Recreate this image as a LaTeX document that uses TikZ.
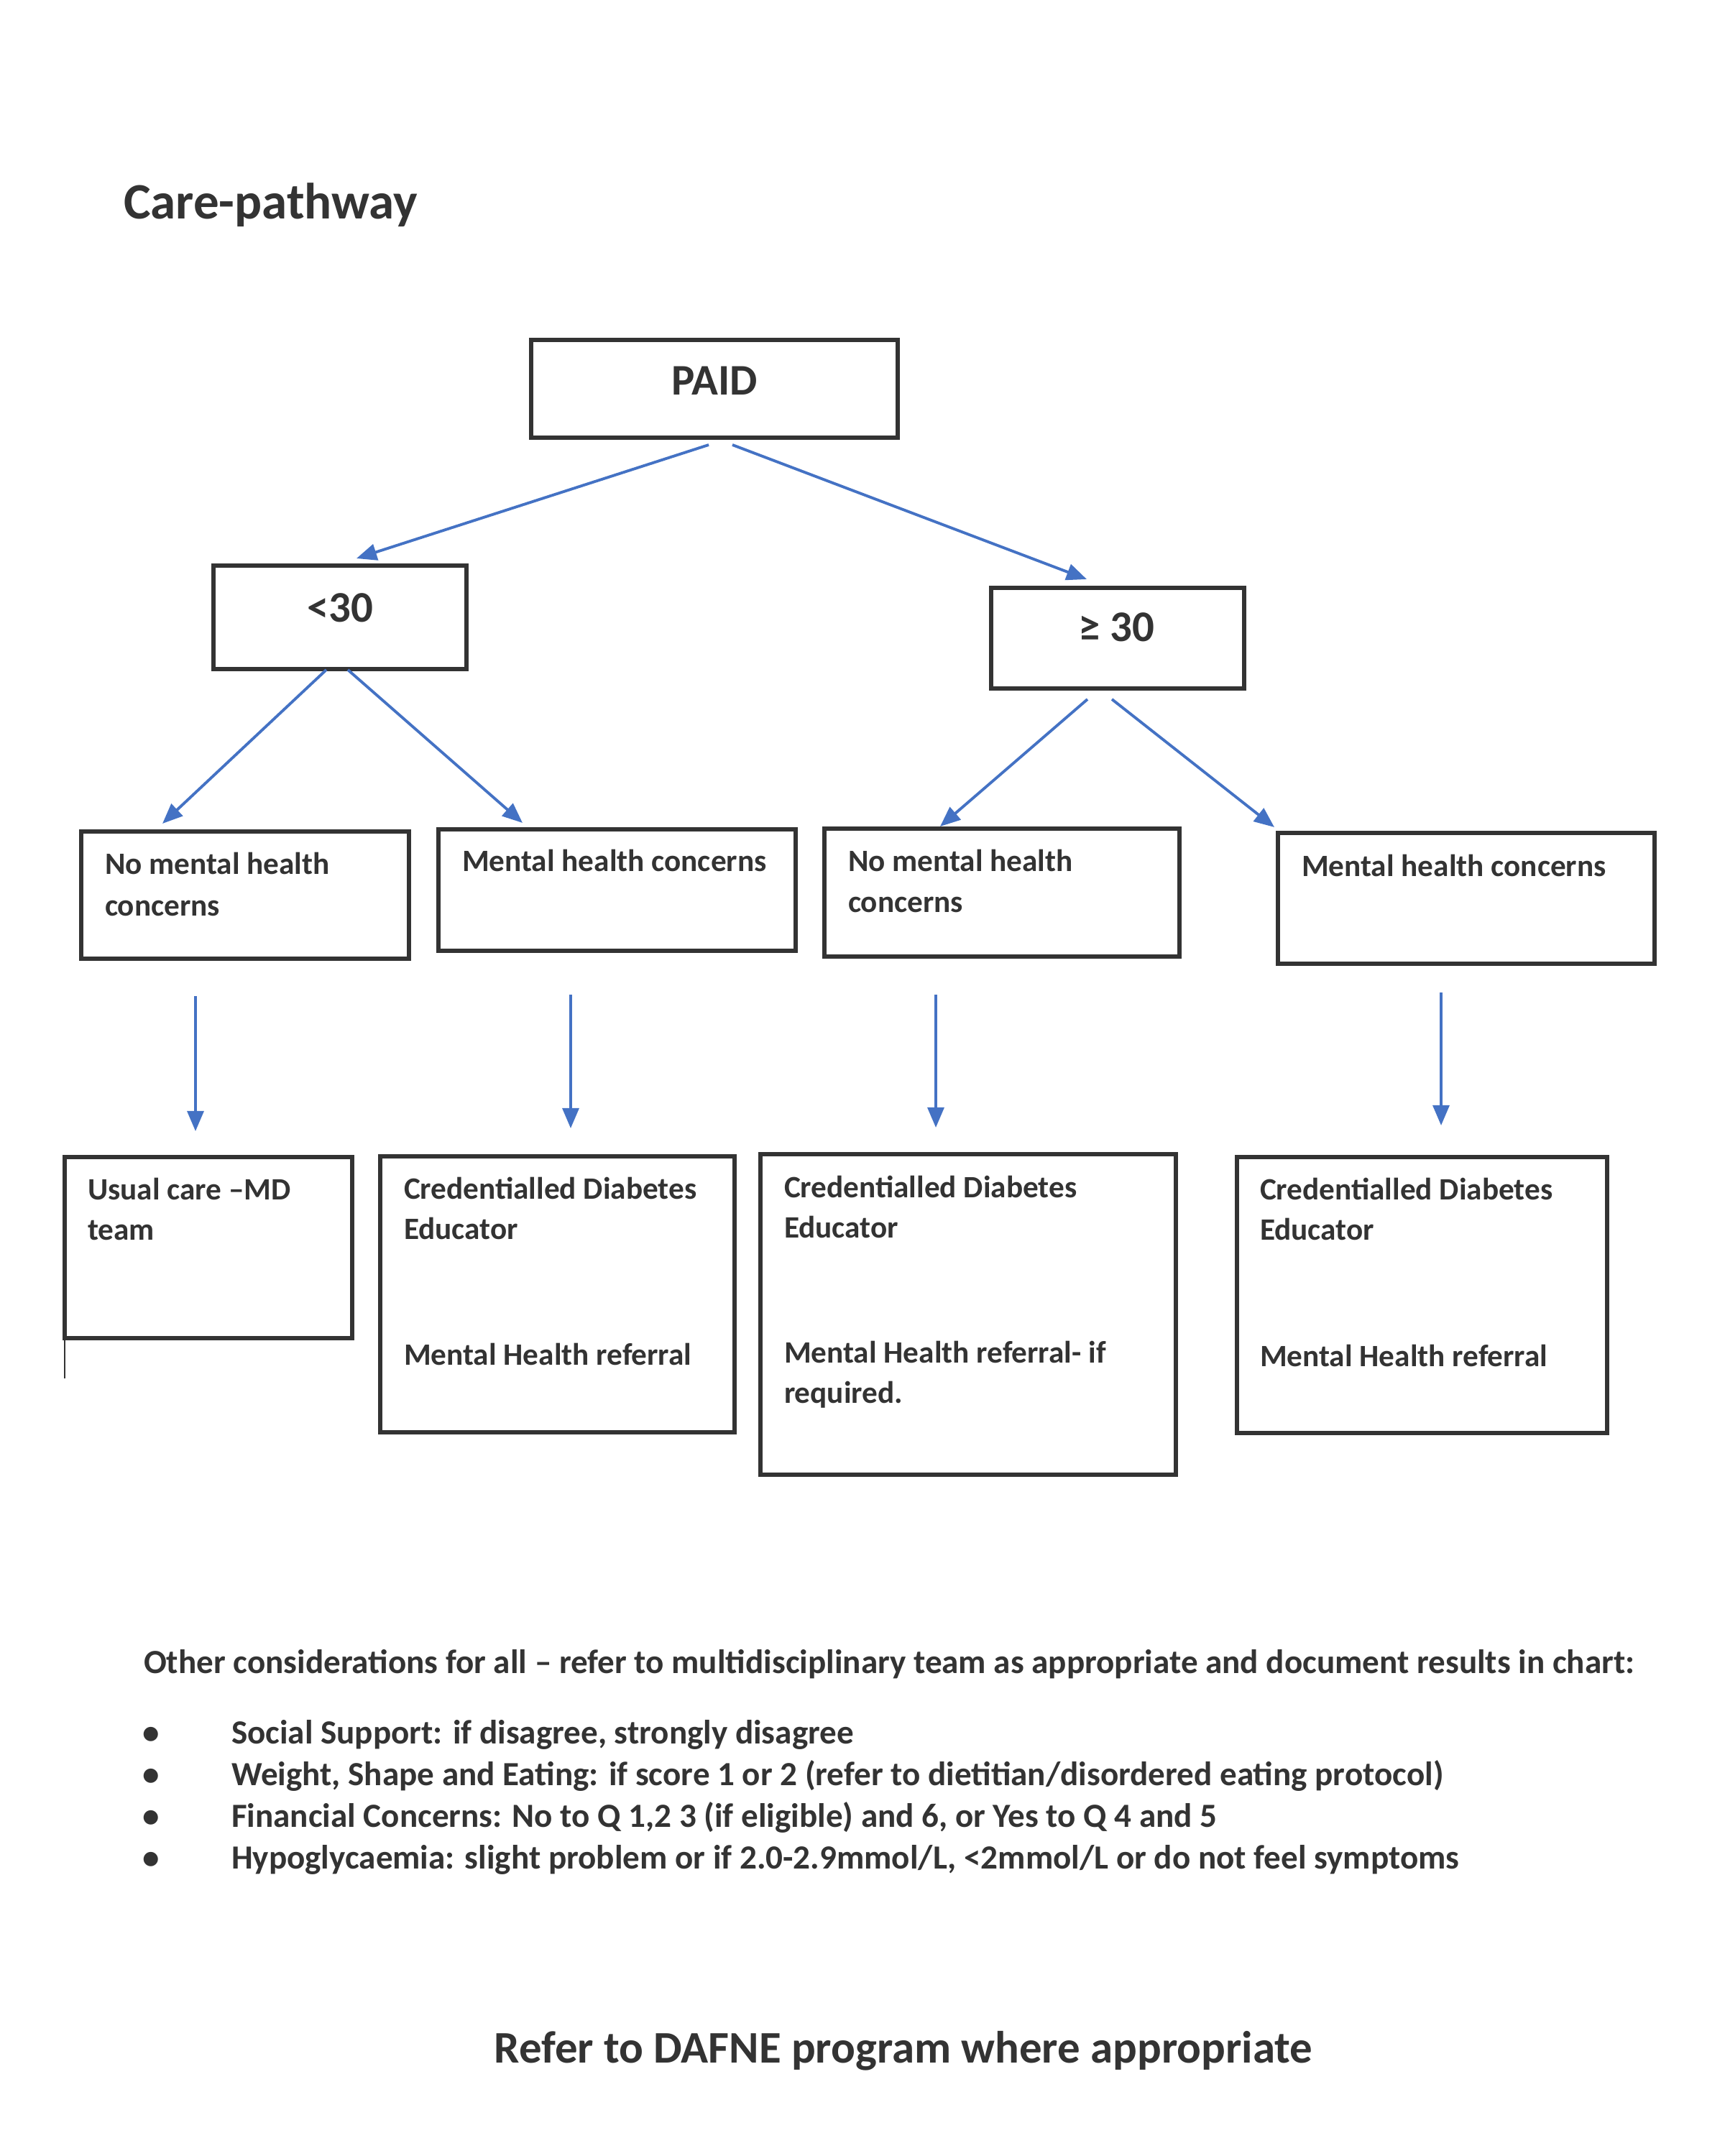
\documentclass[tikz,border=0pt]{standalone}
\usepackage{fontspec}
\setmainfont{Carlito}
\usetikzlibrary{arrows.meta,calc}
\definecolor{boxcol}{HTML}{333333}
\definecolor{txtcol}{HTML}{333333}
\definecolor{arrcol}{RGB}{68,114,196}
\begin{document}
\begin{tikzpicture}[
  box/.style={draw=boxcol, line width=1.5pt, inner sep=0pt, outer sep=0pt, anchor=north west},
  txt/.style={anchor=base west, inner sep=0pt, outer sep=0pt, text=txtcol, font=\bfseries\fontsize{12.3}{14}\selectfont},
  note/.style={txt, font=\bfseries\fontsize{13.4}{16}\selectfont},
  big/.style={anchor=base, inner sep=0pt, outer sep=0pt, text=txtcol, font=\bfseries\fontsize{17.3}{20}\selectfont},
  arr/.style={draw=arrcol, line width=1.1pt, -{Triangle[length=8pt,width=6.5pt]}},
  thin/.style={draw=boxcol, line width=0.7pt}
]
\useasboundingbox[fill=white] (0,0) rectangle (24,-30);

% title
\node[txt, font=\bfseries\fontsize{20.2}{24}\selectfont] (title) at (1.72,-3.05) {Care-pathway};

% boxes
\node[box, minimum width=5.10cm, minimum height=1.36cm] (paid) at (7.39,-4.73) {};
\node[box, minimum width=3.52cm, minimum height=1.44cm] (lt) at (2.97,-7.87) {};
\node[box, minimum width=3.52cm, minimum height=1.40cm] (ge) at (13.79,-8.18) {};
\node[box, minimum width=4.56cm, minimum height=1.77cm] (a1) at (1.13,-11.57) {};
\node[box, minimum width=4.97cm, minimum height=1.69cm] (a2) at (6.10,-11.54) {};
\node[box, minimum width=4.94cm, minimum height=1.78cm] (a3) at (11.47,-11.53) {};
\node[box, minimum width=5.24cm, minimum height=1.82cm] (a4) at (17.78,-11.59) {};
\node[box, minimum width=4.00cm, minimum height=2.52cm] (b1) at (0.90,-16.10) {};
\node[box, minimum width=4.93cm, minimum height=3.84cm] (b2) at (5.29,-16.09) {};
\node[box, minimum width=5.78cm, minimum height=4.46cm] (b3) at (10.58,-16.06) {};
\node[box, minimum width=5.15cm, minimum height=3.84cm] (b4) at (17.21,-16.10) {};
\coordinate (b1tail) at (0.90,-19.18);
\draw[thin] (b1.south west) -- (b1tail);

% box texts
\node[big] (tpaid) at (9.94,-5.50) {PAID};
\node[big] (tlt) at (4.73,-8.65) {<30};
\node[big] (tge) at (15.53,-8.92) {≥ 30};

\node[txt] (ta1a) at (1.46,-12.16) {No mental health};
\node[txt] (ta1b) at (1.46,-12.74) {concerns};
\node[txt] (ta2) at (6.43,-12.12) {Mental health concerns};
\node[txt] (ta3a) at (11.80,-12.12) {No mental health};
\node[txt] (ta3b) at (11.80,-12.69) {concerns};
\node[txt] (ta4) at (18.11,-12.19) {Mental health concerns};

\node[txt] (tb1a) at (1.22,-16.69) {Usual care –MD};
\node[txt] (tb1b) at (1.22,-17.25) {team};
\node[txt] (tb2a) at (5.62,-16.68) {Credentialled Diabetes};
\node[txt] (tb2b) at (5.62,-17.24) {Educator};
\node[txt] (tb2c) at (5.62,-18.99) {Mental Health referral};
\node[txt] (tb3a) at (10.91,-16.66) {Credentialled Diabetes};
\node[txt] (tb3b) at (10.91,-17.22) {Educator};
\node[txt] (tb3c) at (10.91,-18.96) {Mental Health referral- if};
\node[txt] (tb3d) at (10.91,-19.52) {required.};
\node[txt] (tb4a) at (17.53,-16.69) {Credentialled Diabetes};
\node[txt] (tb4b) at (17.53,-17.25) {Educator};
\node[txt] (tb4c) at (17.53,-19.01) {Mental Health referral};

% arrows
\draw[arr] ($(paid.south)+(-0.08,-0.10)$) -- ($(lt.north)+(0.23,0.10)$);
\draw[arr] ($(paid.south)+(0.25,-0.10)$) -- ($(ge.north)+(-0.43,0.12)$);
\draw[arr] ($(lt.south)+(-0.19,-0.01)$) -- ($(a1.north)+(-1.15,0.11)$);
\draw[arr] ($(lt.south)+(0.11,-0.01)$) -- ($(a2.north)+(-1.315,0.09)$);
\draw[arr] ($(ge.south)+(-0.42,-0.15)$) -- ($(a3.north)+(-0.86,0.03)$);
\draw[arr] ($(ge.south)+(-0.08,-0.15)$) -- ($(a4.north)+(-2.67,0.08)$);
\draw[arr] ($(a1.south)+(-0.69,-0.52)$) -- ($(b1.north)+(-0.18,0.36)$);
\draw[arr] ($(a2.south)+(-0.645,-0.61)$) -- ($(b2.north)+(0.185,0.39)$);
\draw[arr] ($(a3.south)+(-0.92,-0.53)$) -- ($(b3.north)+(-0.45,0.37)$);
\draw[arr] ($(a4.south)+(-0.35,-0.40)$) -- ($(b4.north)+(0.265,0.44)$);

% other considerations
\node[note] (head) at (2.00,-23.28) {Other considerations for all – refer to multidisciplinary team as appropriate and document results in chart:};
\node[note, anchor=base] (d1) at (2.10,-24.26) {•};
\node[note, anchor=base] (d2) at (2.10,-24.84) {•};
\node[note, anchor=base] (d3) at (2.10,-25.42) {•};
\node[note, anchor=base] (d4) at (2.10,-26.00) {•};
\node[note] (l1) at (3.22,-24.26) {Social Support: if disagree, strongly disagree};
\node[note] (l2) at (3.22,-24.84) {Weight, Shape and Eating: if score 1 or 2 (refer to dietitian/disordered eating protocol)};
\node[note] (l3) at (3.22,-25.42) {Financial Concerns: No to Q 1,2 3 (if eligible) and 6, or Yes to Q 4 and 5};
\node[note] (l4) at (3.22,-26.00) {Hypoglycaemia: slight problem or if 2.0-2.9mmol/L, <2mmol/L or do not feel symptoms};

\node[big, font=\bfseries\fontsize{17.9}{21}\selectfont] (dafne) at (12.57,-28.70) {Refer to DAFNE program where appropriate};
\end{tikzpicture}
\end{document}
